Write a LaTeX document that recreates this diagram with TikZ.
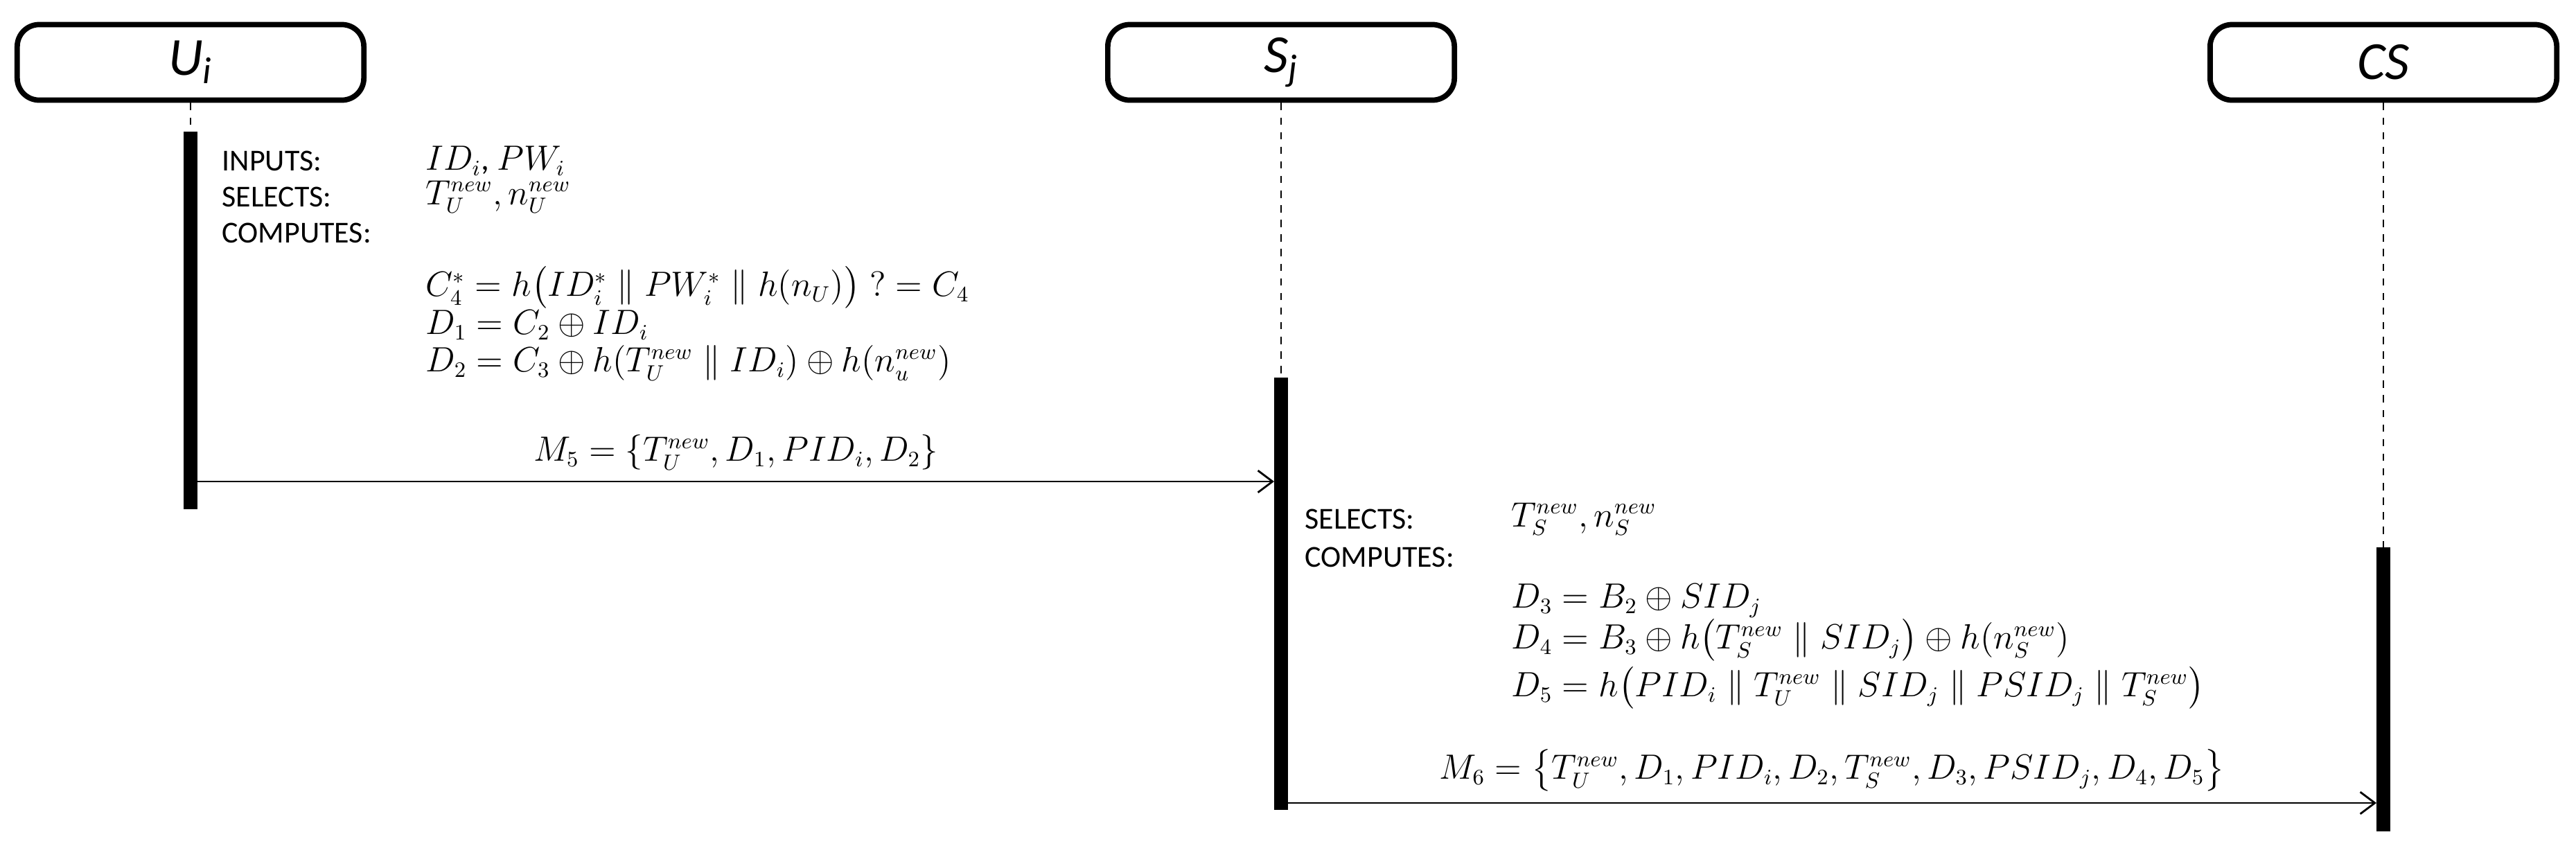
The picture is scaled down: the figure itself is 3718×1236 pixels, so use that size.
\documentclass[tikz,border=0pt]{standalone}
\usepackage{amsmath}
\usepackage{fontspec}
\setmainfont{Carlito}
\usetikzlibrary{arrows.meta}
\begin{document}
\begin{tikzpicture}[x=0.01cm,y=-0.01cm,
  head/.style={draw,line width=2.2pt,rounded corners=9pt,minimum width=5cm,minimum height=1.09cm,font=\fontsize{22}{24}\selectfont\itshape},
  bar/.style={fill=black},
  life/.style={dashed,line width=0.8pt},
  lbl/.style={anchor=west,font=\fontsize{12.5}{14}\selectfont,inner sep=0},
  eq/.style={anchor=west,font=\fontsize{13.5}{15}\selectfont,inner sep=0},
  msg/.style={-{Straight Barb[length=6pt,width=9pt]},line width=0.8pt}]
\useasboundingbox (0,0) rectangle (3718,1236);
\node[head] (U) at (275,90) {U\textsubscript{i}};
\node[head] (S) at (1849,90) {S\textsubscript{j}};
\node[head] (C) at (3440,90) {CS};
\coordinate (ua) at (275,190); \coordinate (sa) at (1849,545); \coordinate (ca) at (3440,790);
\draw[life] (U.south) -- (ua);
\draw[life] (S.south) -- (sa);
\draw[life] (C.south) -- (ca);
\fill[bar] (265,190) rectangle (285,735);
\fill[bar] (1839,545) rectangle (1859,1169);
\fill[bar] (3430,790) rectangle (3450,1200);
% Ui
\node[lbl] (l1) at (320,232) {INPUTS:};
\node[lbl] (l2) at (320,284) {SELECTS:};
\node[lbl] (l3) at (320,336) {COMPUTES:};
\node[eq] (v1) at (614,232) {$ID_i$, $PW_i$};
\node[eq] (v2) at (614,284) {$T_U^{new}, n_U^{new}$};
\node[eq] (e1) at (614,415) {$C_4^* = h\big(ID_i^* \parallel PW_i^* \parallel h(n_U)\big)\;?= C_4$};
\node[eq] (e2) at (614,469) {$D_1 = C_2 \oplus ID_i$};
\node[eq] (e3) at (614,524) {$D_2 = C_3 \oplus h(T_U^{new} \parallel ID_i) \oplus h(n_u^{new})$};
\coordinate (m5a) at (285,695); \coordinate (m5b) at (1839,695);
\draw[msg] (m5a) -- node[above=1pt,font=\fontsize{13.5}{15}\selectfont] {$M_5 = \{T_U^{new}, D_1, PID_i, D_2\}$} (m5b);
% Sj
\node[lbl] (s1) at (1883,749) {SELECTS:};
\node[lbl] (s2) at (1883,804) {COMPUTES:};
\node[eq] (sv) at (2181,749) {$T_S^{new}, n_S^{new}$};
\node[eq] (f1) at (2181,867) {$D_3 = B_2 \oplus SID_j$};
\node[eq] (f2) at (2181,924) {$D_4 = B_3 \oplus h\big(T_S^{new} \parallel SID_j\big) \oplus h(n_S^{new})$};
\node[eq] (f3) at (2181,993) {$D_5 = h\big(PID_i \parallel T_U^{new} \parallel SID_j \parallel PSID_j \parallel T_S^{new}\big)$};
\coordinate (m6a) at (1859,1159); \coordinate (m6b) at (3430,1159);
\draw[msg] (m6a) -- node[above=1pt,font=\fontsize{13.5}{15}\selectfont] {$M_6 = \big\{T_U^{new}, D_1, PID_i, D_2, T_S^{new}, D_3, PSID_j, D_4, D_5\big\}$} (m6b);
\end{tikzpicture}
\end{document}
